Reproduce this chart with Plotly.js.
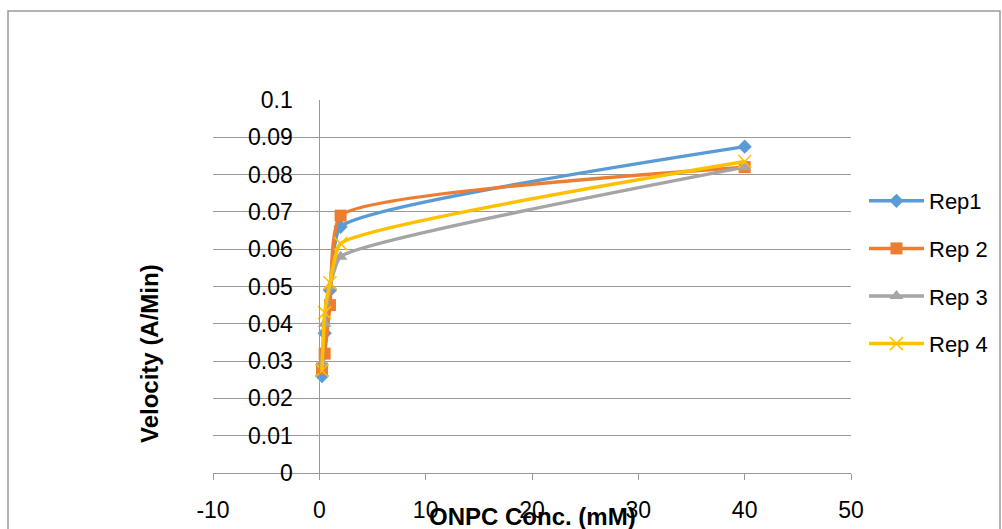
<!DOCTYPE html>
<html>
<head>
<meta charset="utf-8">
<script src="https://cdn.plot.ly/plotly-3.0.1.min.js"></script>
<style>html,body{margin:0;padding:0;background:#fff;}#chart{width:1002px;height:529px;}</style>
</head>
<body>
<div id="chart"></div>
<script>
// Data
const seriesNames = ["Rep1", "Rep 2", "Rep 3", "Rep 4"];
const concRep1 = [0.25, 0.5, 1, 2, 40];
const concRep2 = [0.25, 0.5, 1, 2, 40];
const concRep3 = [0.25, 0.5, 1, 2, 40];
const concRep4 = [0.25, 0.5, 1, 2, 40];
const velRep1 = [0.026, 0.0375, 0.049, 0.066, 0.0875];
const velRep2 = [0.028, 0.032, 0.045, 0.069, 0.082];
const velRep3 = [0.0295, 0.040, 0.050, 0.058, 0.082];
const velRep4 = [0.0275, 0.043, 0.051, 0.0615, 0.0835];
const xTicks = [-10, 0, 10, 20, 30, 40, 50];
const yTicks = [0, 0.01, 0.02, 0.03, 0.04, 0.05, 0.06, 0.07, 0.08, 0.09, 0.1];

const colors = ["#5B9BD5", "#ED7D31", "#A5A5A5", "#FFC000"];
const symbols = ["diamond", "square", "triangle-up", "x-thin-open"];
const sizes = [11, 12, 12, 13];
const xs = [concRep1, concRep2, concRep3, concRep4];
const ys = [velRep1, velRep2, velRep3, velRep4];

const traces = seriesNames.map((n, i) => ({
  type: "scatter",
  mode: "lines+markers",
  name: n,
  legendgroup: "g" + i,
  x: xs[i],
  y: ys[i],
  line: {color: colors[i], width: 3.5, shape: "spline", smoothing: 0.45},
  marker: {symbol: symbols[i], size: sizes[i], color: colors[i],
           line: {color: colors[i], width: i === 3 ? 1.5 : 0}}
}));

// plot area in pixels: left 213, right 851, top 100, bottom 473
const L = 213, R = 851, T = 100, B = 473;
const px = p => (p - L) / (R - L);
const py = p => (B - p) / (B - T);

const layout = {
  width: 1002, height: 529,
  margin: {l: L, r: 1002 - R, t: T, b: 529 - B, autoexpand: false},
  paper_bgcolor: "#fff", plot_bgcolor: "#fff",
  font: {family: "Liberation Sans, Arial, sans-serif", size: 22, color: "#000"},
  showlegend: true,
  legend: {x: px(864), xanchor: "left", y: py(180), yanchor: "top",
           font: {size: 22}, tracegroupgap: 16, itemwidth: 55,
           bgcolor: "rgba(0,0,0,0)"},
  xaxis: {
    range: [-10, 50], tickvals: xTicks, ticktext: xTicks.map(String),
    showgrid: false, zeroline: false, showline: true, linecolor: "#999", linewidth: 1,
    ticks: "outside", ticklen: 6, tickcolor: "#999", tickfont: {size: 23},
    ticklabelstandoff: 10, fixedrange: true
  },
  yaxis: {
    range: [0, 0.1], tickvals: yTicks, ticktext: yTicks.map(v => String(v)),
    anchor: "free", position: 1 / 6,
    showgrid: true, gridcolor: "#999", gridwidth: 1,
    zeroline: false, showline: true, linecolor: "#999", linewidth: 1,
    ticks: "", tickfont: {size: 23}, ticklabelstandoff: 22, fixedrange: true
  },
  annotations: [
    {text: "<b>ONPC Conc. (mM)</b>", xref: "paper", yref: "paper", x: 0.5, y: py(516),
     xanchor: "center", yanchor: "middle", showarrow: false, font: {size: 24}},
    {text: "<b>Velocity (A/Min)</b>", xref: "paper", yref: "paper", x: px(149), y: py(354),
     xanchor: "center", yanchor: "middle", textangle: -90, showarrow: false, font: {size: 24}}
  ],
  shapes: [
    {type: "rect", xref: "paper", yref: "paper", x0: px(8), x1: px(1000), y0: py(11), y1: py(560),
     line: {color: "#999", width: 1.5}, fillcolor: "rgba(0,0,0,0)", layer: "below"}
  ]
};

Plotly.newPlot("chart", traces, layout, {displayModeBar: false, staticPlot: true});
</script>
</body>
</html>
